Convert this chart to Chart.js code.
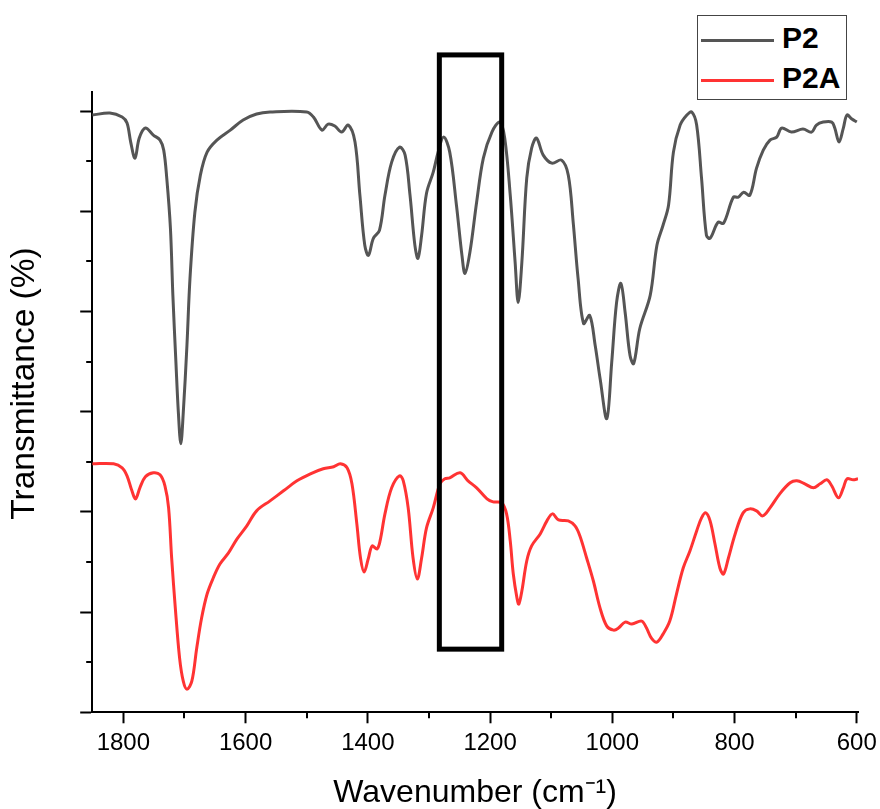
<!DOCTYPE html>
<html>
<head>
<meta charset="utf-8">
<script src="https://cdn.jsdelivr.net/npm/chart.js@4/dist/chart.umd.min.js"></script>
<style>
  body { margin: 0; background: #fff; }
  #wrap { position: relative; width: 880px; height: 809px; }
  #legend {
    position: absolute; left: 697px; top: 15px; width: 148px; height: 83px;
    border: 1.5px solid #444; background: #fff;
    font: bold 30px "Liberation Sans", Arial, sans-serif; color: #000;
  }
  #legend .row { position: absolute; left: 3px; height: 34px; line-height: 34px; }
  #legend .swatch { display: inline-block; width: 73px; height: 0; border-top: 3px solid; vertical-align: middle; margin-right: 8px; }
</style>
</head>
<body>
<div id="wrap">
  <canvas id="ftirChart" width="880" height="809"></canvas>
  <div id="legend">
    <div class="row" style="top:5px"><span class="swatch" style="border-color:#555555"></span>P2</div>
    <div class="row" style="top:45px"><span class="swatch" style="border-color:#ff3333"></span>P2A</div>
  </div>
</div>
<script>
// wavenumber (cm-1) and transmittance (offset, arbitrary units)
var p2Wavenumber = [1851, 1822, 1802, 1794, 1788, 1781, 1774, 1764, 1751, 1740, 1734, 1729, 1723, 1719, 1714, 1710, 1706, 1702, 1696, 1691, 1683, 1674, 1663, 1647, 1625, 1604, 1582, 1560, 1500, 1489, 1475, 1465, 1454, 1443, 1432, 1421, 1413, 1405, 1399, 1391, 1381, 1372, 1361, 1348, 1339, 1331, 1323, 1318, 1312, 1304, 1293, 1285, 1276, 1266, 1255, 1246, 1241, 1233, 1222, 1211, 1197, 1184, 1176, 1167, 1159, 1154, 1148, 1140, 1132, 1124, 1113, 1099, 1083, 1072, 1064, 1056, 1047, 1037, 1028, 1020, 1009, 1001, 993, 986, 979, 971, 965, 955, 938, 927, 917, 908, 900, 889, 878, 870, 862, 854, 846, 840, 827, 818, 802, 794, 785, 775, 764, 753, 742, 731, 723, 707, 688, 674, 666, 655, 641, 636, 629, 622, 616, 608, 600];
var p2Values = [5.96, 5.98, 5.94, 5.88, 5.69, 5.53, 5.73, 5.83, 5.76, 5.71, 5.61, 5.33, 4.83, 4.16, 3.49, 2.99, 2.68, 2.99, 3.66, 4.33, 4.99, 5.36, 5.59, 5.71, 5.81, 5.91, 5.97, 5.99, 5.99, 5.94, 5.81, 5.87, 5.85, 5.79, 5.86, 5.69, 5.16, 4.66, 4.56, 4.73, 4.81, 5.16, 5.49, 5.64, 5.56, 5.16, 4.66, 4.53, 4.76, 5.18, 5.39, 5.59, 5.74, 5.59, 5.06, 4.56, 4.38, 4.59, 5.09, 5.53, 5.79, 5.89, 5.73, 5.16, 4.49, 4.09, 4.49, 5.33, 5.63, 5.73, 5.56, 5.48, 5.51, 5.36, 4.89, 4.33, 3.88, 3.96, 3.66, 3.33, 2.93, 3.49, 4.09, 4.28, 3.99, 3.56, 3.48, 3.83, 4.16, 4.66, 4.86, 5.06, 5.59, 5.86, 5.96, 5.99, 5.86, 5.33, 4.76, 4.73, 4.89, 4.88, 5.14, 5.14, 5.19, 5.16, 5.43, 5.61, 5.71, 5.74, 5.83, 5.79, 5.82, 5.79, 5.86, 5.89, 5.89, 5.83, 5.69, 5.83, 5.96, 5.92, 5.89];

var p2aWavenumber = [1851, 1816, 1802, 1794, 1786, 1780, 1773, 1764, 1751, 1740, 1732, 1726, 1721, 1715, 1708, 1702, 1696, 1688, 1680, 1672, 1663, 1653, 1642, 1628, 1614, 1598, 1582, 1560, 1538, 1516, 1494, 1473, 1456, 1445, 1434, 1426, 1418, 1412, 1406, 1399, 1393, 1385, 1380, 1372, 1361, 1348, 1342, 1334, 1326, 1319, 1312, 1304, 1293, 1282, 1274, 1266, 1249, 1236, 1222, 1205, 1195, 1181, 1173, 1167, 1162, 1156, 1153, 1148, 1140, 1132, 1118, 1107, 1098, 1088, 1072, 1061, 1053, 1042, 1031, 1020, 1009, 998, 990, 979, 968, 952, 944, 936, 927, 917, 906, 895, 884, 873, 862, 854, 847, 840, 832, 824, 818, 810, 799, 786, 775, 764, 754, 742, 726, 709, 698, 685, 671, 660, 649, 641, 630, 622, 616, 606, 598];
var p2aValues = [2.48, 2.48, 2.44, 2.36, 2.21, 2.13, 2.24, 2.35, 2.39, 2.37, 2.26, 2.04, 1.54, 1.04, 0.54, 0.31, 0.23, 0.31, 0.64, 0.94, 1.18, 1.34, 1.48, 1.59, 1.73, 1.86, 2.01, 2.11, 2.21, 2.31, 2.38, 2.43, 2.45, 2.48, 2.44, 2.28, 1.88, 1.54, 1.40, 1.54, 1.66, 1.63, 1.71, 1.98, 2.24, 2.36, 2.31, 2.04, 1.54, 1.33, 1.54, 1.84, 2.04, 2.28, 2.33, 2.34, 2.39, 2.31, 2.24, 2.13, 2.10, 2.09, 1.98, 1.71, 1.38, 1.14, 1.08, 1.21, 1.51, 1.66, 1.78, 1.91, 1.98, 1.92, 1.91, 1.86, 1.76, 1.54, 1.31, 1.04, 0.86, 0.82, 0.84, 0.90, 0.88, 0.91, 0.84, 0.74, 0.70, 0.78, 0.91, 1.18, 1.44, 1.61, 1.81, 1.94, 1.99, 1.91, 1.68, 1.44, 1.38, 1.54, 1.78, 1.99, 2.03, 2.01, 1.96, 2.04, 2.18, 2.29, 2.31, 2.28, 2.24, 2.28, 2.32, 2.26, 2.14, 2.24, 2.33, 2.32, 2.33];

var xTicks = [1800, 1600, 1400, 1200, 1000, 800, 600];
var xMinorTicks = [1700, 1500, 1300, 1100, 900, 700];
var yTicks = [0, 1, 2, 3, 4, 5, 6];
var yMinorTicks = [0.5, 1.5, 2.5, 3.5, 4.5, 5.5];

// highlighted region (black frame)
var boxWavenumbers = [1283, 1181];
var boxLevels = [0.63, 6.56];

function toPoints(xs, ys) {
    return xs.map(function (x, i) { return { x: x, y: ys[i] }; });
}

// short minor tick marks + the highlight frame
var extrasPlugin = {
    id: 'extras',
    afterDraw: function (chart) {
        var ctx = chart.ctx;
        var xs = chart.scales.x, ys = chart.scales.y;
        ctx.save();
        ctx.strokeStyle = '#000';
        ctx.lineWidth = 2;
        ctx.beginPath();
        xMinorTicks.forEach(function (v) {
            var px = Math.round(xs.getPixelForValue(v));
            ctx.moveTo(px, xs.top);
            ctx.lineTo(px, xs.top + 6);
        });
        yMinorTicks.forEach(function (v) {
            var py = Math.round(ys.getPixelForValue(v));
            ctx.moveTo(ys.right, py);
            ctx.lineTo(ys.right - 6, py);
        });
        ctx.stroke();

        var x1 = xs.getPixelForValue(boxWavenumbers[0]);
        var x2 = xs.getPixelForValue(boxWavenumbers[1]);
        var y1 = ys.getPixelForValue(boxLevels[1]);
        var y2 = ys.getPixelForValue(boxLevels[0]);
        ctx.lineWidth = 5;
        ctx.strokeRect(x1, y1, x2 - x1, y2 - y1);
        ctx.restore();
    }
};

var ctx = document.getElementById('ftirChart').getContext('2d');
var ftirChart = new Chart(ctx, {
    type: 'line',
    data: {
        datasets: [{
            label: 'P2',
            data: toPoints(p2Wavenumber, p2Values),
            borderColor: '#555555',
            borderWidth: 3,
            pointRadius: 0,
            tension: 0.35,
            fill: false
        }, {
            label: 'P2A',
            data: toPoints(p2aWavenumber, p2aValues),
            borderColor: '#ff3333',
            borderWidth: 3,
            pointRadius: 0,
            tension: 0.35,
            fill: false
        }]
    },
    options: {
        responsive: false,
        animation: false,
        layout: { padding: { top: 92, right: 22, bottom: 0, left: 5 } },
        plugins: {
            legend: { display: false },
            tooltip: { enabled: false }
        },
        scales: {
            x: {
                type: 'linear',
                reverse: true,
                min: 598,
                max: 1851,
                afterBuildTicks: function (scale) {
                    scale.ticks = xTicks.map(function (v) { return { value: v }; });
                },
                grid: { drawOnChartArea: false, drawTicks: true, tickLength: 11, tickWidth: 2, tickColor: '#000' },
                border: { display: true, color: '#000', width: 2 },
                ticks: {
                    padding: 2,
                    color: '#000',
                    font: { family: '"Liberation Sans", Arial, sans-serif', size: 24, lineHeight: 1.53 },
                    maxRotation: 0,
                    callback: function (v) { return String(v); }
                },
                title: {
                    display: true,
                    text: 'Wavenumber (cm\u207B\u00B9)',
                    color: '#000',
                    font: { family: '"Liberation Sans", Arial, sans-serif', size: 32, lineHeight: 1 },
                    padding: { top: 13, bottom: 0 }
                }
            },
            y: {
                type: 'linear',
                min: 0,
                max: 6.19,
                afterBuildTicks: function (scale) {
                    scale.ticks = yTicks.map(function (v) { return { value: v }; });
                },
                grid: { drawOnChartArea: false, drawTicks: true, tickLength: 12, tickWidth: 2, tickColor: '#000' },
                border: { display: true, color: '#000', width: 2 },
                ticks: { display: false },
                title: {
                    display: true,
                    text: '\u00A0\u00A0\u00A0\u00A0Transmittance (%)',
                    color: '#000',
                    font: { family: '"Liberation Sans", Arial, sans-serif', size: 33.5 },
                    padding: { top: 0, bottom: 35 }
                }
            }
        }
    },
    plugins: [extrasPlugin]
});
</script>
</body>
</html>
